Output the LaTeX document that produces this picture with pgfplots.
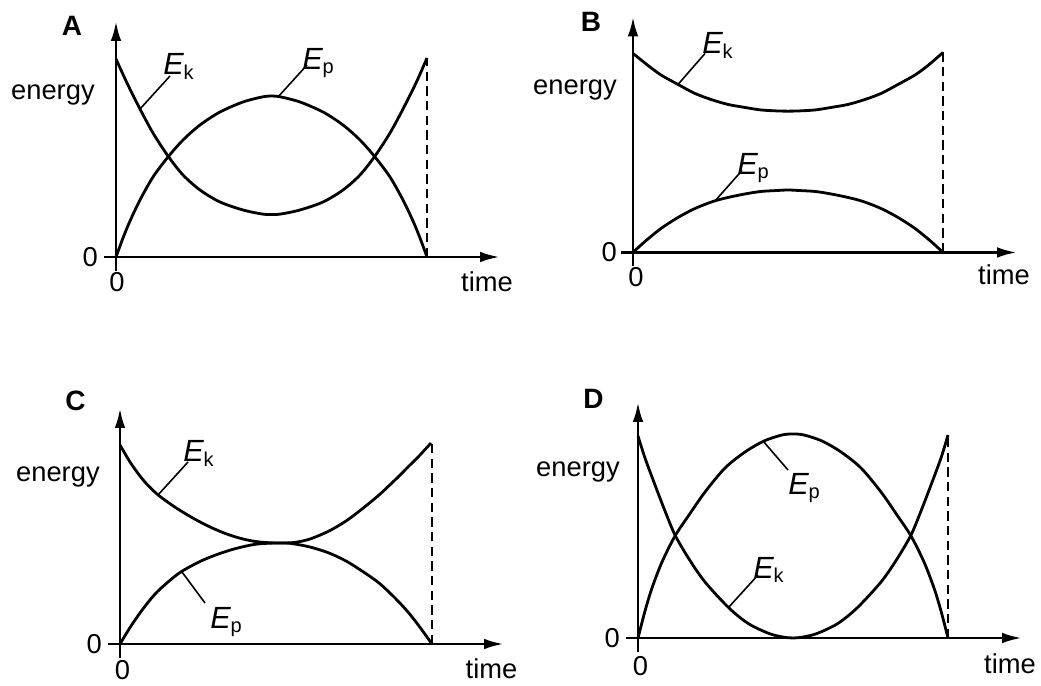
\documentclass[border=0pt]{standalone}
\usepackage{fontspec}
\setmainfont{Liberation Sans}
\usepackage{pgfplots}
\pgfplotsset{compat=1.18}
\usetikzlibrary{arrows.meta}

\newcommand{\Ek}{{\fontsize{23}{26}\selectfont\itshape E}\raisebox{-3.5pt}{\fontsize{15}{18}\selectfont k}}
\newcommand{\Ep}{{\fontsize{23}{26}\selectfont\itshape E}\raisebox{-3pt}{\fontsize{15}{18}\selectfont p}}

\pgfplotsset{
  panel/.style={
    x=0.75pt, y=0.75pt,
    xmin=-12, xmax=384, ymin=-14, ymax=236,
    axis lines=middle,
    axis line style={line width=2.2pt, -{Latex[length=15pt,width=8pt]}},
    xtick=\empty, ytick=\empty,
    anchor=origin, clip=false,
  },
  curve/.style={black, line width=2.1pt, smooth, no markers},
  drop/.style={black, line width=1.3pt, dash pattern=on 7pt off 4pt, no markers},
}
\tikzset{
  leader/.style={black, line width=1.2pt},
  tag/.style={font=\bfseries\fontsize{21}{24}\selectfont},
}

\begin{document}
\begin{tikzpicture}[font=\fontsize{20.5}{24}\selectfont, every node/.append style={inner sep=0pt}]
\path[use as bounding box] (0,0) rectangle (780.75pt,513.75pt);

% A
\begin{axis}[panel, at={(87pt,321pt)}]
\addplot[curve] coordinates {(0,198) (11,174) (24,148) (37,124) (52,101) (67,82) (84,67) (104,55) (127,47) (146,43) (155.5,42.5)
  (165,43) (184,47) (207,55) (227,67) (244,82) (259,101) (274,124) (287,148) (300,174) (311,199)};
\addplot[curve] coordinates {(0,0) (7,19) (14,36) (24,57) (37,80) (52,100) (67,117) (84,132) (104,145) (127,155) (146,160) (155.5,161)
  (165,160) (184,155) (207,145) (227,132) (244,117) (259,100) (274,80) (287,57) (297,36) (304,19) (311,0)};
\addplot[drop] coordinates {(311,0) (311,199)};
\node[tag] at (axis cs:-44,231) {A};
\node[anchor=base east] at (axis cs:-21,157) {energy};
\node[anchor=east] at (axis cs:-18,0) {0};
\node[anchor=north] at (axis cs:1,-15) {0};
\node[anchor=base] at (axis cs:371,-35) {time};
\draw[leader] (axis cs:24,148) -- (axis cs:54,181);
\node[anchor=base west] at (axis cs:47,182) {\Ek};
\draw[leader] (axis cs:162,160) -- (axis cs:191,192);
\node[anchor=base west] at (axis cs:186,187) {\Ep};
\end{axis}

% B
\begin{axis}[panel, at={(474.75pt,324.4pt)}]
\addplot[curve] coordinates {(0,199) (15,187) (28,177.5) (45,168) (62,159) (78,153) (95,148) (112,145) (128,142.5) (145,141.5) (155,141.3)
  (165,141.5) (182,142.5) (198,145) (215,148) (232,153) (248,159) (265,168) (282,177.5) (295,187) (310,200)};
\addplot[curve] coordinates {(0,0) (12,11) (28,24) (45,35) (62,44) (80,51) (95,55) (112,58.5) (128,61) (145,62) (155,62.5)
  (165,62) (182,61) (198,58.5) (215,55) (230,51) (248,44) (265,35) (282,24) (298,11) (310,0)};
\addplot[drop] coordinates {(310,0) (310,200)};
\node[tag] at (axis cs:-42,231) {B};
\node[anchor=base east] at (axis cs:-16,157.5) {energy};
\node[anchor=east] at (axis cs:-16,0) {0};
\node[anchor=north] at (axis cs:3,-14.5) {0};
\node[anchor=base] at (axis cs:371,-32.5) {time};
\draw[leader] (axis cs:45,168) -- (axis cs:72,199);
\node[anchor=base west] at (axis cs:69,199) {\Ek};
\draw[leader] (axis cs:82,51.5) -- (axis cs:109,82);
\node[anchor=base west] at (axis cs:104,77.5) {\Ep};
\end{axis}

% C
\begin{axis}[panel, at={(90pt,30.75pt)}]
\addplot[curve] coordinates {(0,199) (11,180.5) (24,163) (37,150) (54,137.5) (71,127) (87,118.5) (104,111) (121,105.5) (137,102.3) (155.5,101)
  (174,101.5) (190,105) (209,113) (226,123) (242,135) (259,149) (275,164) (288,177) (300,189) (311,201)};
\addplot[curve] coordinates {(0,0) (11,18) (24,36.5) (37,52) (54,67) (64,74) (81,83) (97,89.5) (114,95) (131,99) (141,100.3) (155.5,101)
  (170,100.7) (190,97) (209,91) (226,83) (242,73) (259,61) (275,46) (288,32) (299,18) (312,0)};
\addplot[drop] coordinates {(312,0) (312,200)};
\node[tag] at (axis cs:-44.5,243) {C};
\node[anchor=base east] at (axis cs:-20,162) {energy};
\node[anchor=east] at (axis cs:-18,0) {0};
\node[anchor=north] at (axis cs:2.5,-16) {0};
\node[anchor=base] at (axis cs:371.5,-34) {time};
\draw[leader] (axis cs:38,149) -- (axis cs:68,182);
\node[anchor=base west] at (axis cs:63,182) {\Ek};
\draw[leader] (axis cs:62,72) -- (axis cs:85,41);
\node[anchor=base west] at (axis cs:90,16) {\Ep};
\end{axis}

% D
\begin{axis}[panel, at={(478.5pt,35.25pt)}]
\addplot[curve] coordinates {(0,202) (7,180) (17,153) (27,127) (37,103) (51,79) (67,56) (91,30) (111,14) (134,3.5) (155,0)
  (176,3.5) (199,14) (219,30) (243,56) (259,79) (273,103) (283,127) (293,153) (303,180) (310,203)};
\addplot[curve] coordinates {(0,0) (7,27) (14,50) (24,76) (37,102) (51,123) (67,146) (87,170) (107,186) (126,197) (144,203) (155,204)
  (166,203) (184,197) (203,186) (223,170) (243,146) (259,123) (273,102) (286,76) (296,50) (303,27) (310,0)};
\addplot[drop] coordinates {(310,0) (310,203)};
\node[tag] at (axis cs:-44.5,239) {D};
\node[anchor=base east] at (axis cs:-18,161) {energy};
\node[anchor=east] at (axis cs:-18,0) {0};
\node[anchor=north] at (axis cs:2.5,-18) {0};
\node[anchor=base] at (axis cs:372,-35) {time};
\draw[leader] (axis cs:125,197) -- (axis cs:150,168);
\node[anchor=base west] at (axis cs:150,143) {\Ep};
\draw[leader] (axis cs:90,30) -- (axis cs:120,63);
\node[anchor=base west] at (axis cs:115,60) {\Ek};
\end{axis}
\end{tikzpicture}
\end{document}
